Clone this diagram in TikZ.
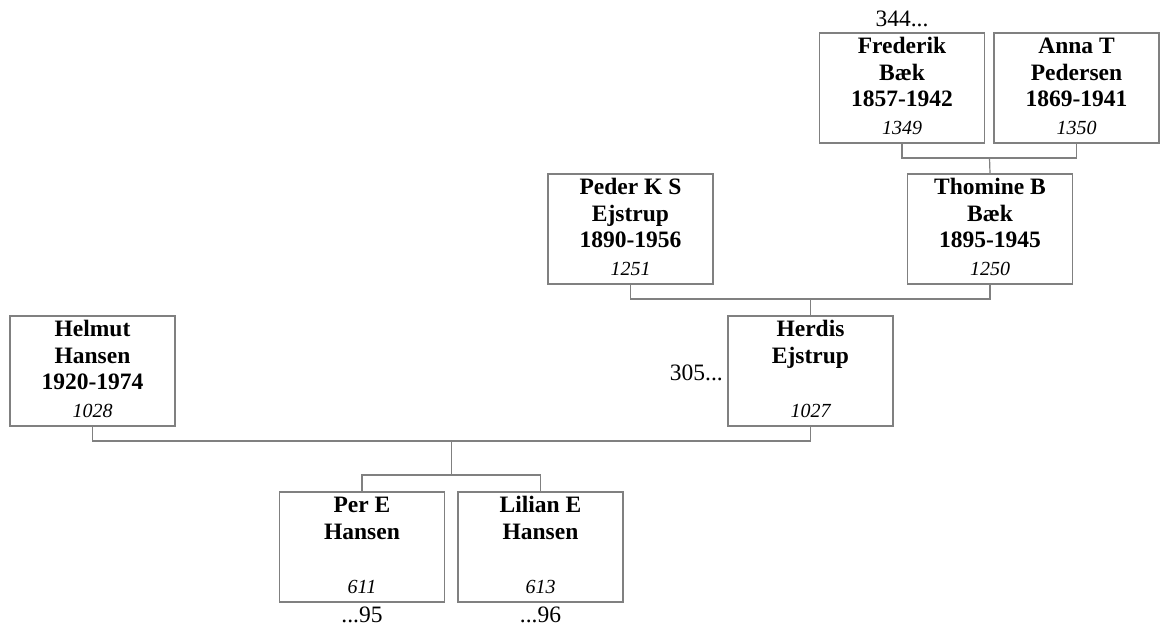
\documentclass[tikz,border=0pt]{standalone}
\usepackage{fontspec}
\setmainfont{Liberation Serif}
\definecolor{linegray}{RGB}{128,128,128}
\tikzset{
  personbox/.style={draw=linegray, line width=1.2pt, fill=white, minimum width=165pt, minimum height=110pt, inner sep=0pt},
  nametxt/.style={font=\fontsize{23.5}{26}\selectfont\bfseries, anchor=base, inner sep=0pt},
  numtxt/.style={font=\fontsize{20}{22}\selectfont\itshape, anchor=base, inner sep=0pt},
  reftxt/.style={font=\fontsize{23.5}{26}\selectfont, inner sep=0pt},
  conn/.style={draw=linegray, line width=1.2pt}
}
\newcommand\personnode[7]{%
  \node[personbox] (#1) at (#2,#3) {};
  \node[nametxt] (#1-a) at ([yshift=-21.5pt]#1.north) {#4};
  \node[nametxt] (#1-b) at ([yshift=-48pt]#1.north) {#5};
  \node[nametxt] (#1-c) at ([yshift=-74.5pt]#1.north) {#6};
  \node[numtxt] (#1-n) at ([yshift=9.5pt]#1.south) {#7};
}
\begin{document}
\begin{tikzpicture}[x=1pt,y=-1pt]
\useasboundingbox (0,0) rectangle (1166,626);
\personnode{fb}{902}{88}{Frederik}{Bæk}{1857-1942}{1349}
\personnode{at}{1076.5}{88}{Anna T}{Pedersen}{1869-1941}{1350}
\personnode{tb}{990}{229}{Thomine B}{Bæk}{1895-1945}{1250}
\personnode{pk}{630.5}{229}{Peder K S}{Ejstrup}{1890-1956}{1251}
\personnode{he}{810.5}{371}{Herdis}{Ejstrup}{}{1027}
\personnode{hh}{92.5}{371}{Helmut}{Hansen}{1920-1974}{1028}
\personnode{pe}{362}{547}{Per E}{Hansen}{}{611}
\personnode{le}{540.5}{547}{Lilian E}{Hansen}{}{613}
% connectors
\coordinate (j1) at (989.5,158);
\draw[conn] (fb.south) |- (j1) -| (at.south);
\draw[conn] (j1) -- (tb.north);
\coordinate (j2) at (810.5,299);
\draw[conn] (pk.south) |- (j2) -| (tb.south);
\draw[conn] (j2) -- (he.north);
\coordinate (j3) at (451.5,441);
\coordinate (k3) at (451.5,475);
\draw[conn] (hh.south) |- (j3) -| (he.south);
\draw[conn] (j3) -- (k3);
\draw[conn] (pe.north) |- (k3) -| (le.north);
% reference labels
\node[reftxt, anchor=base] (r344) at (902,27) {344...};
\node[reftxt, anchor=base east] (r305) at (723,380) {305...};
\node[reftxt, anchor=base] (r95) at (362,622) {...95};
\node[reftxt, anchor=base] (r96) at (540.5,622) {...96};
\end{tikzpicture}
\end{document}
